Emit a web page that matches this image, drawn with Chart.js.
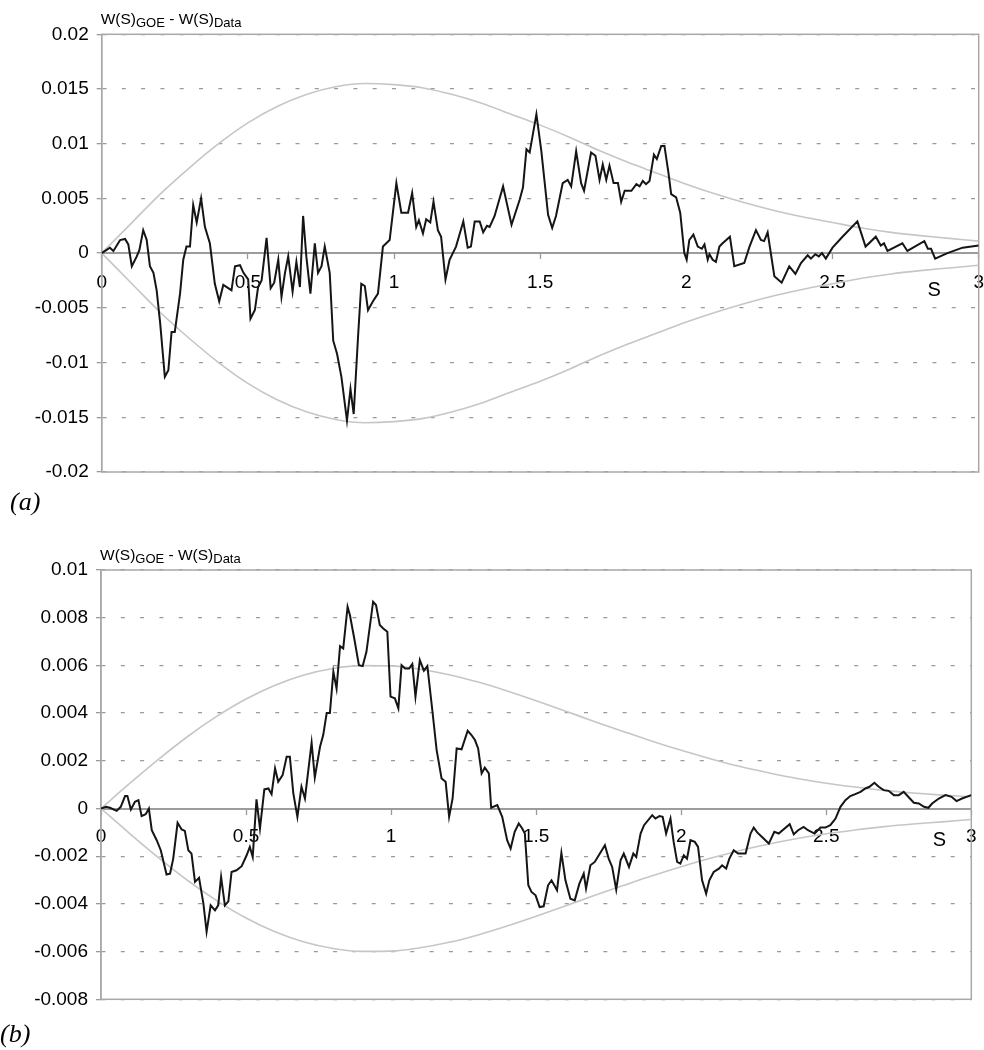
<!DOCTYPE html>
<html>
<head>
<meta charset="utf-8">
<script src="https://cdn.jsdelivr.net/npm/chart.js@4.4.1/dist/chart.umd.min.js"></script>
<style>
  body { margin: 0; background: #fff; width: 984px; height: 1050px; position: relative; overflow: hidden; }
  canvas { position: absolute; left: 0; }
  #chartA { top: 0; }
  #chartB { top: 500px; }
  .tag { position: absolute; font: italic 26px "Liberation Serif", serif; line-height: 1; color: #000; }
</style>
</head>
<body>
<canvas id="chartA" width="984" height="500"></canvas>
<canvas id="chartB" width="984" height="550"></canvas>
<div class="tag" style="left:10px; top:489px">(a)</div>
<div class="tag" style="left:0; top:1021px">(b)</div>
<script>
// panel (a): W(S)GOE - W(S)Data against S
const sA = [0, 0.017, 0.028, 0.04, 0.063, 0.08, 0.091, 0.103, 0.12, 0.129, 0.142, 0.154, 0.165, 0.177, 0.188, 0.2,
  0.216, 0.228, 0.239, 0.25, 0.268, 0.279, 0.29, 0.302, 0.313, 0.325, 0.34, 0.353, 0.37, 0.387, 0.402, 0.416,
  0.433, 0.444, 0.456, 0.473, 0.485, 0.501, 0.509, 0.524, 0.535, 0.547, 0.564, 0.578, 0.59, 0.604, 0.615, 0.627,
  0.638, 0.653, 0.666, 0.678, 0.689, 0.7, 0.714, 0.729, 0.74, 0.752, 0.763, 0.78, 0.792, 0.805, 0.82, 0.839,
  0.851, 0.862, 0.877, 0.888, 0.9, 0.911, 0.928, 0.945, 0.962, 0.985, 1.008, 1.025, 1.048, 1.062, 1.076, 1.085,
  1.099, 1.11, 1.124, 1.135, 1.15, 1.161, 1.176, 1.19, 1.212, 1.237, 1.252, 1.263, 1.276, 1.293, 1.305, 1.318,
  1.327, 1.344, 1.373, 1.402, 1.43, 1.441, 1.453, 1.464, 1.487, 1.504, 1.527, 1.541, 1.554, 1.577, 1.594, 1.606,
  1.623, 1.64, 1.65, 1.674, 1.689, 1.703, 1.714, 1.726, 1.737, 1.751, 1.766, 1.777, 1.789, 1.812, 1.829, 1.84,
  1.851, 1.862, 1.874, 1.889, 1.899, 1.914, 1.925, 1.939, 1.948, 1.965, 1.979, 1.993, 2.001, 2.01, 2.024, 2.039,
  2.053, 2.062, 2.073, 2.079, 2.09, 2.101, 2.113, 2.124, 2.149, 2.164, 2.198, 2.216, 2.238, 2.255, 2.266, 2.278,
  2.301, 2.326, 2.352, 2.373, 2.392, 2.415, 2.426, 2.441, 2.453, 2.464, 2.477, 2.5, 2.534, 2.585, 2.613, 2.648,
  2.665, 2.676, 2.688, 2.739, 2.756, 2.814, 2.826, 2.837, 2.851, 2.893, 2.945, 3.0];
const diffA = [0, 0.0003, 0.0005, 0.0002, 0.0012, 0.0013, 0.0008, -0.0012, -0.0003, 0.0003, 0.0021, 0.0012, -0.0012, -0.0018, -0.0034, -0.0064,
  -0.0113, -0.0107, -0.0072, -0.0072, -0.0037, -0.0006, 0.0006, 0.0006, 0.0044, 0.0028, 0.005, 0.0024, 0.0009, -0.0028, -0.0044, -0.0029,
  -0.0032, -0.0034, -0.0012, -0.0011, -0.0018, -0.0024, -0.006, -0.0052, -0.0031, -0.0025, 0.0014, -0.0032, -0.0027, -0.0006, -0.004, -0.0018,
  -0.0003, -0.0035, -0.0008, -0.0031, 0.0034, -0.0003, -0.0037, 0.0009, -0.0018, -0.0012, 0.0006, -0.0018, -0.008, -0.0092, -0.0113, -0.0153,
  -0.0124, -0.0147, -0.0076, -0.0028, -0.003, -0.0052, -0.0044, -0.0037, 0.0006, 0.0012, 0.0064, 0.0037, 0.0037, 0.0055, 0.0024, 0.003,
  0.0018, 0.0031, 0.0028, 0.0047, 0.0021, 0.0015, -0.0024, -0.0006, 0.0006, 0.0029, 0.0005, 0.0006, 0.0029, 0.0029, 0.0019, 0.0025,
  0.0024, 0.0034, 0.0061, 0.0026, 0.0049, 0.006, 0.0095, 0.0092, 0.0127, 0.0093, 0.0035, 0.0023, 0.0034, 0.0064, 0.0067, 0.0061,
  0.0093, 0.0064, 0.0057, 0.0092, 0.0089, 0.0067, 0.0081, 0.0067, 0.008, 0.0064, 0.0064, 0.0047, 0.0057, 0.0057, 0.0063, 0.0061,
  0.0066, 0.0063, 0.0066, 0.009, 0.0086, 0.0098, 0.0098, 0.0073, 0.0054, 0.0051, 0.0037, 0, -0.0006, 0.0012, 0.0017, 0.0006,
  0.0004, 0.0008, -0.0006, -0.0001, -0.0006, -0.0008, 0.0006, 0.0009, 0.0015, -0.0012, -0.0009, 0.0006, 0.0021, 0.0012, 0.0011, 0.0019,
  -0.0021, -0.0027, -0.0012, -0.0019, -0.0009, -0.0002, -0.0005, -0.0001, -0.0003, 0, -0.0005, 0.0005, 0.0015, 0.0029, 0.0006, 0.0015,
  0.0007, 0.0009, 0.0002, 0.0009, 0.0002, 0.0011, 0.0004, 0.0004, -0.0005, 0, 0.0005, 0.0007];

// grey bounds, sampled every 0.1 in S
const envS = [0, 0.1, 0.2, 0.3, 0.4, 0.5, 0.6, 0.7, 0.8, 0.9, 1, 1.1, 1.2, 1.3, 1.4, 1.5,
  1.6, 1.7, 1.8, 1.9, 2, 2.1, 2.2, 2.3, 2.4, 2.5, 2.6, 2.7, 2.8, 2.9, 3];
const upperA = [0, 0.0027, 0.0054, 0.0078, 0.01, 0.0119, 0.0134, 0.0145, 0.0152, 0.0155, 0.0154, 0.0151, 0.0145, 0.0137, 0.0127, 0.0117,
  0.0106, 0.0094, 0.0083, 0.0073, 0.0063, 0.0054, 0.0046, 0.0039, 0.0033, 0.0028, 0.0023, 0.0019, 0.0016, 0.00135, 0.0011];
const lowerA = [0, -0.0027, -0.0054, -0.0078, -0.01, -0.0119, -0.0134, -0.0145, -0.0152, -0.0155, -0.0154, -0.0151, -0.0145, -0.0137, -0.0127, -0.0117,
  -0.0106, -0.0094, -0.0083, -0.0073, -0.0063, -0.0054, -0.0046, -0.0039, -0.0033, -0.0028, -0.0023, -0.0019, -0.0016, -0.00135, -0.0011];

// panel (b)
const sB = [0, 0.017, 0.031, 0.054, 0.068, 0.083, 0.091, 0.103, 0.117, 0.129, 0.14, 0.154, 0.165, 0.175, 0.192, 0.206,
  0.226, 0.238, 0.249, 0.264, 0.278, 0.289, 0.301, 0.312, 0.324, 0.338, 0.353, 0.364, 0.378, 0.393, 0.404, 0.414,
  0.427, 0.439, 0.45, 0.467, 0.485, 0.502, 0.513, 0.523, 0.536, 0.548, 0.563, 0.577, 0.588, 0.6, 0.611, 0.626,
  0.64, 0.651, 0.663, 0.677, 0.691, 0.703, 0.726, 0.737, 0.755, 0.766, 0.778, 0.789, 0.801, 0.812, 0.824, 0.835,
  0.85, 0.858, 0.873, 0.889, 0.902, 0.915, 0.938, 0.948, 0.961, 0.973, 0.987, 0.998, 1.013, 1.025, 1.036, 1.048,
  1.062, 1.073, 1.084, 1.099, 1.113, 1.125, 1.142, 1.157, 1.174, 1.188, 1.2, 1.212, 1.226, 1.243, 1.264, 1.277,
  1.289, 1.3, 1.312, 1.323, 1.337, 1.345, 1.366, 1.383, 1.4, 1.412, 1.426, 1.44, 1.452, 1.461, 1.473, 1.484,
  1.498, 1.512, 1.526, 1.541, 1.553, 1.572, 1.587, 1.601, 1.618, 1.633, 1.649, 1.664, 1.672, 1.687, 1.702, 1.716,
  1.737, 1.75, 1.762, 1.776, 1.791, 1.802, 1.82, 1.835, 1.845, 1.86, 1.872, 1.9, 1.911, 1.925, 1.936, 1.948,
  1.963, 1.974, 1.986, 1.997, 2.009, 2.02, 2.032, 2.047, 2.058, 2.072, 2.086, 2.097, 2.112, 2.13, 2.141, 2.155,
  2.166, 2.181, 2.196, 2.222, 2.239, 2.25, 2.262, 2.284, 2.302, 2.321, 2.336, 2.374, 2.388, 2.403, 2.422, 2.437,
  2.46, 2.48, 2.497, 2.514, 2.532, 2.549, 2.566, 2.583, 2.6, 2.618, 2.635, 2.649, 2.666, 2.681, 2.698, 2.715,
  2.733, 2.75, 2.767, 2.785, 2.802, 2.819, 2.837, 2.852, 2.865, 2.888, 2.911, 2.932, 2.949, 2.968, 3.0];
const diffB = [0, 0.00007, 0.00003, -0.0001, 0.00007, 0.00052, 0.00052, -0.00004, 0.00028, 0.00035, -0.00032, -0.00024, 0, -0.00091, -0.00133, -0.00175,
  -0.00277, -0.00273, -0.0021, -0.0006, -0.00088, -0.00094, -0.00175, -0.00189, -0.00308, -0.00291, -0.00399, -0.00517, -0.00406, -0.00427, -0.00406, -0.00287,
  -0.00406, -0.00389, -0.00266, -0.00259, -0.00242, -0.00196, -0.00161, -0.00203, 0.00038, -0.00084, 0.0008, 0.00084, 0.0006, 0.00168, 0.00112, 0.0014,
  0.00217, 0.00217, 0.00063, -0.00035, 0.00091, 0.00042, 0.00276, 0.0013, 0.00259, 0.00308, 0.004, 0.004, 0.00573, 0.00503, 0.00681, 0.00671,
  0.00846, 0.00811, 0.00713, 0.00601, 0.00597, 0.00657, 0.00867, 0.00853, 0.00769, 0.00755, 0.00741, 0.00469, 0.00462, 0.0042, 0.00601, 0.00587,
  0.00587, 0.00606, 0.00469, 0.00622, 0.00578, 0.00597, 0.00413, 0.00245, 0.00126, 0.00112, -0.00035, 0.00042, 0.00252, 0.00248, 0.00326, 0.00308,
  0.00287, 0.00252, 0.00147, 0.00171, 0.00147, 0.00003, 0.00014, -0.00035, -0.00133, -0.00168, -0.00098, -0.00063, -0.00084, -0.00105, -0.00322, -0.0035,
  -0.00364, -0.00413, -0.0041, -0.00322, -0.00301, -0.00343, -0.00186, -0.00301, -0.00378, -0.00385, -0.00315, -0.00273, -0.00336, -0.00238, -0.00224, -0.00196,
  -0.00154, -0.0021, -0.00245, -0.0034, -0.00217, -0.00189, -0.00245, -0.00189, -0.00203, -0.00105, -0.0007, -0.00028, -0.00042, -0.00032, -0.00035, -0.00105,
  -0.00042, -0.0014, -0.00224, -0.00231, -0.00196, -0.0021, -0.00133, -0.0014, -0.00161, -0.00301, -0.00357, -0.00301, -0.00266, -0.00252, -0.00238, -0.00252,
  -0.0021, -0.00175, -0.00189, -0.00189, -0.00105, -0.0008, -0.001, -0.00126, -0.00147, -0.00098, -0.00105, -0.00066, -0.00108, -0.00091, -0.00077, -0.00091,
  -0.00105, -0.0008, -0.0008, -0.0007, -0.00042, 0.00007, 0.00035, 0.00052, 0.0006, 0.0007, 0.00084, 0.00091, 0.00108, 0.00091, 0.00077, 0.00074,
  0.00056, 0.00056, 0.0007, 0.00046, 0.00024, 0.00021, 0.00007, 0.00003, 0.00021, 0.00042, 0.00056, 0.00049, 0.00031, 0.00042, 0.00056];
const upperB = [0, 0.00106, 0.00208, 0.00303, 0.00387, 0.00459, 0.00517, 0.0056, 0.00587, 0.00599, 0.00598, 0.00584, 0.00561, 0.0053, 0.00493, 0.00452,
  0.00409, 0.00365, 0.00323, 0.00282, 0.00244, 0.00209, 0.00177, 0.0015, 0.00126, 0.00106, 0.0009, 0.00076, 0.00065, 0.00056, 0.00049];
const lowerB = [0, -0.00106, -0.00208, -0.00303, -0.00387, -0.00459, -0.00517, -0.0056, -0.00587, -0.00599, -0.00598, -0.00584, -0.00561, -0.0053, -0.00493, -0.00452,
  -0.00409, -0.00365, -0.00323, -0.00282, -0.00244, -0.00209, -0.00177, -0.0015, -0.00126, -0.00106, -0.0009, -0.00076, -0.00065, -0.00056, -0.00046];

const xTicks = [0, 0.5, 1, 1.5, 2, 2.5, 3];
const xTickLabels = ['0', '0.5', '1', '1.5', '2', '2.5', '3'];
const yTicksA = [-0.02, -0.015, -0.01, -0.005, 0, 0.005, 0.01, 0.015, 0.02];
const yTickLabelsA = ['-0.02', '-0.015', '-0.01', '-0.005', '0', '0.005', '0.01', '0.015', '0.02'];
const yTicksB = [-0.008, -0.006, -0.004, -0.002, 0, 0.002, 0.004, 0.006, 0.008, 0.01];
const yTickLabelsB = ['-0.008', '-0.006', '-0.004', '-0.002', '0', '0.002', '0.004', '0.006', '0.008', '0.01'];

const pts = (xs, ys) => xs.map((x, i) => ({ x: x, y: ys[i] }));
const tickFont = { family: 'Liberation Sans', size: 19 };

// plot frame around the chart area
const frame = {
  id: 'frame',
  beforeDatasetsDraw(chart) {
    const a = chart.chartArea, c = chart.ctx;
    c.save();
    c.strokeStyle = '#a8a8a8';
    c.lineWidth = 1.5;
    c.strokeRect(a.left, a.top, a.right - a.left, a.bottom - a.top);
    c.restore();
  }
};

// y-axis heading with subscripts, and the "S" axis name
const labels = {
  id: 'labels',
  afterDraw(chart, args, opts) {
    const c = chart.ctx, a = chart.chartArea;
    c.save();
    c.fillStyle = '#000';
    c.textBaseline = 'alphabetic';
    let x = a.left - 1;
    const y = a.top - 10;
    const parts = [['W(S)', false], ['GOE', true], [' - W(S)', false], ['Data', true]];
    for (const [t, sub] of parts) {
      c.font = sub ? '13px "Liberation Sans"' : '15.5px "Liberation Sans"';
      c.fillText(t, x, sub ? y + 3 : y);
      x += c.measureText(t).width;
    }
    c.font = '20px "Liberation Sans"';
    c.textAlign = 'center';
    c.textBaseline = 'middle';
    c.fillText('S', chart.scales.x.getPixelForValue(opts.sPos), chart.scales.y.getPixelForValue(0) + opts.sDrop);
    c.restore();
  }
};

function makeChart(id, d, yTicks, yLabels, pad, yWidth, xPad, sPos, sDrop) {
  return new Chart(document.getElementById(id), {
    type: 'line',
    data: {
      datasets: [
        { data: pts(d.s, d.diff), borderColor: '#151515', borderWidth: 2, pointRadius: 0, tension: 0 },
        { data: pts(envS, d.upper), borderColor: '#c6c6c6', borderWidth: 1.6, pointRadius: 0, cubicInterpolationMode: 'monotone' },
        { data: pts(envS, d.lower), borderColor: '#c6c6c6', borderWidth: 1.6, pointRadius: 0, cubicInterpolationMode: 'monotone' }
      ]
    },
    options: {
      responsive: false,
      animation: false,
      events: [],
      layout: { padding: pad },
      plugins: {
        legend: { display: false },
        tooltip: { enabled: false },
        labels: { sPos: sPos, sDrop: sDrop }
      },
      scales: {
        x: {
          type: 'linear',
          min: 0,
          max: 3,
          position: { y: 0 },
          afterBuildTicks: s => { s.ticks = xTicks.map(v => ({ value: v })); },
          // the end labels may overhang the plot, as in the original
          afterFit: s => { s.paddingLeft = 0; s.paddingRight = 0; },
          ticks: { callback: (v, i) => xTickLabels[i], font: tickFont, color: '#000', padding: xPad, maxRotation: 0, autoSkip: false },
          grid: { drawOnChartArea: false, tickLength: 5, tickColor: '#9a9a9a', tickWidth: 1.3 },
          border: { display: true, color: '#9c9c9c', width: 2 }
        },
        y: {
          min: yTicks[0],
          max: yTicks[yTicks.length - 1],
          afterBuildTicks: s => { s.ticks = yTicks.map(v => ({ value: v })); },
          afterFit: s => { s.width = yWidth; },
          ticks: { callback: (v, i) => yLabels[i], font: tickFont, color: '#000', padding: 8, autoSkip: false },
          grid: { color: '#9a9a9a', lineWidth: 1.3, tickLength: 5, tickColor: '#9a9a9a', tickWidth: 1.3 },
          border: { display: true, color: '#a8a8a8', width: 1.5, dash: [4, 15.3] }
        }
      }
    },
    plugins: [frame, labels]
  });
}

makeChart('chartA', { s: sA, diff: diffA, upper: upperA, lower: lowerA }, yTicksA, yTickLabelsA,
  { top: 34.3, right: 5.3, bottom: 28, left: 0 }, 101.7, 13, 2.848, 37);
makeChart('chartB', { s: sB, diff: diffB, upper: upperB, lower: lowerB }, yTicksB, yTickLabelsB,
  { top: 70, right: 12.7, bottom: 50.7, left: 0 }, 101, 12, 2.89, 32);
</script>
</body>
</html>
